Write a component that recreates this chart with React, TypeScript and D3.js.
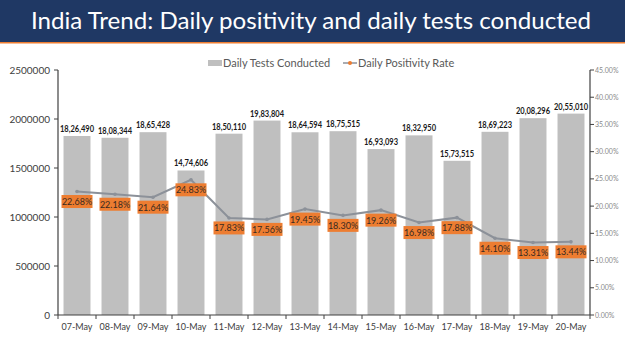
import React from "react";
import * as d3 from "d3";

const dates = ["07-May","08-May","09-May","10-May","11-May","12-May","13-May","14-May","15-May","16-May","17-May","18-May","19-May","20-May"];
const tests = [1826490,1808344,1865428,1474606,1850110,1983804,1864594,1875515,1693093,1832950,1573515,1869223,2008296,2055010];
const positivity = [22.68,22.18,21.64,24.83,17.83,17.56,19.45,18.30,19.26,16.98,17.88,14.10,13.31,13.44];
const leftTicks = [0,500000,1000000,1500000,2000000,2500000];
const rightTicks = [0,5,10,15,20,25,30,35,40,45];

const W = 625, H = 351;
const left = 58, right = 590, top = 70, bottom = 315;
const FONT = "Lato, 'Open Sans', sans-serif";

function indian(n: number): string {
  const s = String(n);
  const last3 = s.slice(-3);
  let rest = s.slice(0, -3);
  const parts: string[] = [];
  while (rest.length > 2) { parts.unshift(rest.slice(-2)); rest = rest.slice(0, -2); }
  if (rest.length) parts.unshift(rest);
  return parts.length ? parts.join(",") + "," + last3 : last3;
}

export default function App() {
  const x = d3.scaleBand().domain(dates).range([left, right]).paddingInner(0.29).paddingOuter(0.145);
  const yL = d3.scaleLinear().domain([0, 2500000]).range([bottom, top]);
  const yR = d3.scaleLinear().domain([0, 45]).range([bottom, top]);
  const band = (right - left) / dates.length;
  const cx = (d: string) => (x(d) as number) + x.bandwidth() / 2;
  const line = d3.line<number>().x((_, i) => cx(dates[i])).y(v => yR(v));

  return (
    <svg width={W} height={H} style={{ position: "absolute", left: 0, top: 0, background: "#fff" }} fontFamily={FONT}>
      <rect x={0} y={0} width={W} height={42} fill="#1F3864" />
      <rect x={0} y={42} width={W} height={1.5} fill="#ED7D31" />
      <text x={311} y={29} textAnchor="middle" fill="#fff" fontSize={24} fontFamily="Lato, sans-serif" textLength={560} lengthAdjust="spacingAndGlyphs">India Trend: Daily positivity and daily tests conducted</text>

      {/* legend */}
      <rect x={208} y={60} width={14} height={6} fill="#BFBFBF" />
      <text x={223} y={66.5} fontSize={11} fill="#595959">Daily Tests Conducted</text>
      <line x1={343} x2={357} y1={63} y2={63} stroke="#8C9199" strokeWidth={1.5} />
      <circle cx={350} cy={63} r={2} fill="#ED7D31" />
      <text x={358} y={66.5} fontSize={11} fill="#595959">Daily Positivity Rate</text>

      {/* bars */}
      {tests.map((v, i) => (
        <rect key={"b" + i} x={x(dates[i])} y={yL(v)} width={x.bandwidth()} height={bottom - yL(v)} fill="#BFBFBF" />
      ))}
      {tests.map((v, i) => (
        <text key={"bl" + i} x={cx(dates[i])} y={yL(v) - 4} textAnchor="middle" fontSize={8.5} fontWeight="bold" fill="#1a1a1a" textLength={34} lengthAdjust="spacingAndGlyphs">{indian(v)}</text>
      ))}

      {/* axes */}
      <line x1={left} x2={left} y1={top} y2={bottom} stroke="#404040" strokeWidth={1.2} />
      <line x1={right} x2={right} y1={top} y2={bottom} stroke="#404040" strokeWidth={1.2} />
      <line x1={left} x2={right} y1={bottom} y2={bottom} stroke="#404040" strokeWidth={1.2} />
      {leftTicks.map(t => (
        <g key={"lt" + t}>
          <line x1={left - 4} x2={left} y1={yL(t)} y2={yL(t)} stroke="#404040" />
          <text x={50} y={yL(t) + 3.5} textAnchor="end" fontSize={10} fill="#404040">{t}</text>
        </g>
      ))}
      {rightTicks.map(t => (
        <g key={"rt" + t}>
          <line x1={right} x2={right + 4} y1={yR(t)} y2={yR(t)} stroke="#404040" />
          <text x={595} y={yR(t) + 2.5} fontSize={7} fill="#8a8a8a">{t.toFixed(2) + "%"}</text>
        </g>
      ))}
      {d3.range(dates.length + 1).map(i => (
        <line key={"xt" + i} x1={left + i * band} x2={left + i * band} y1={bottom} y2={bottom + 4} stroke="#404040" />
      ))}
      {dates.map(d => (
        <text key={"xl" + d} x={cx(d)} y={330} textAnchor="middle" fontSize={9} fill="#404040">{d}</text>
      ))}

      {/* line */}
      <path d={line(positivity) || ""} fill="none" stroke="#8C9199" strokeWidth={2} />
      {positivity.map((v, i) => (
        <circle key={"p" + i} cx={cx(dates[i])} cy={yR(v)} r={1.8} fill="#8C9199" />
      ))}
      {positivity.map((v, i) => (
        <g key={"pl" + i}>
          <rect x={cx(dates[i]) - 15.5} y={yR(v) + 3.5} width={31} height={13} fill="#ED7D31" />
          <text x={cx(dates[i])} y={yR(v) + 13.5} textAnchor="middle" fontSize={9} fill="#3a2a20">{v.toFixed(2) + "%"}</text>
        </g>
      ))}
    </svg>
  );
}
